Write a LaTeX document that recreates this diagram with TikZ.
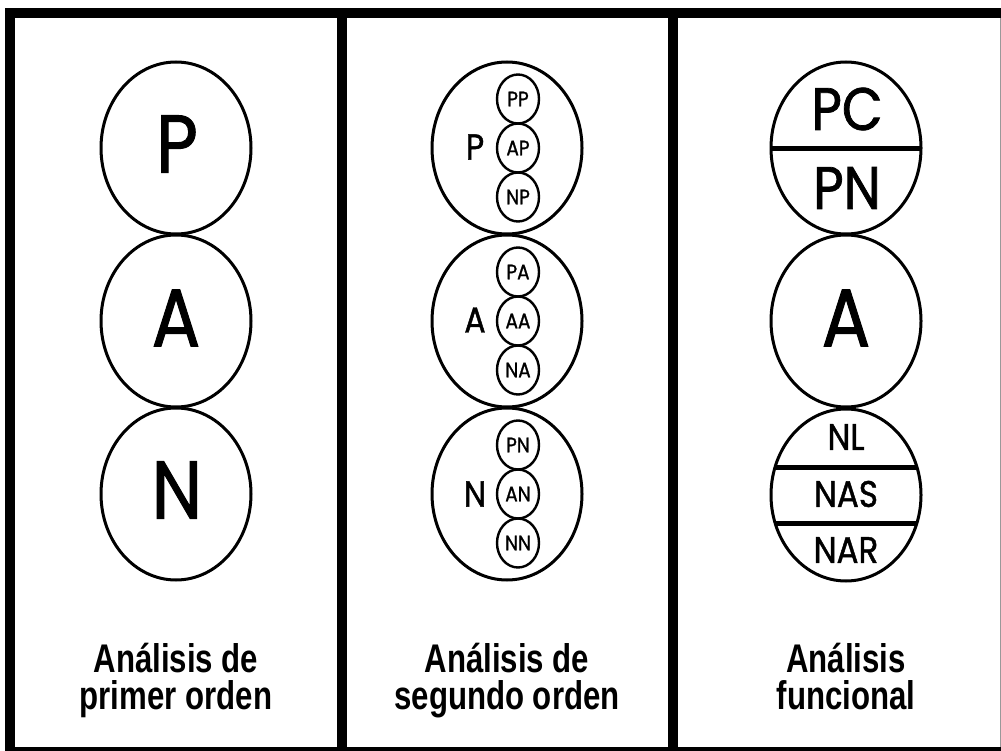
\documentclass[tikz,border=0pt]{standalone}
\usepackage{fontspec}
\usepackage{graphicx}
\usetikzlibrary{shapes.geometric}
\setmainfont{Liberation Sans}
\newfontfamily\geo{Poppins}[FakeStretch=0.88,FakeBold=1.2]
\begin{document}
\begin{tikzpicture}[x=1pt,y=-1pt,
  big/.style={draw, ellipse, line width=3pt, minimum width=150pt, minimum height=172pt, inner sep=0pt, outer sep=0pt},
  small/.style={draw, ellipse, line width=2.4pt, minimum width=42pt, minimum height=49pt, inner sep=0pt, outer sep=0pt, font=\geo\fontsize{21}{21}\selectfont},
  huge/.style={inner sep=0pt, font=\geo\fontsize{82}{82}\selectfont},
  mid/.style={inner sep=0pt, font=\geo\fontsize{36}{36}\selectfont},
  fun/.style={inner sep=0pt, font=\geo\fontsize{60}{60}\selectfont},
  funs/.style={inner sep=0pt, font=\geo\fontsize{37}{37}\selectfont},
  lab/.style={inner sep=0pt, anchor=north, align=center, font=\bfseries\fontsize{40}{37}\selectfont},
  sep/.style={line width=5pt}
]
\useasboundingbox (0,0) rectangle (1001,751);
\fill[white] (0,0) rectangle (1001,751);
% frame
\fill[black] (5,8) rectangle (1001,18);
\fill[black] (5,8) rectangle (15,751);
\fill[black] (337,8) rectangle (347,751);
\fill[black] (668,8) rectangle (678,751);
\fill[black] (5,747) rectangle (1001,751);
\draw[black!40, line width=1pt] (1000,18) -- (1000,747);

% panel 1
\node[big] (p1) at (176,148) {};
\node[big] (a1) at (176,321) {};
\node[big] (n1) at (176,494) {};
\node[huge] (tp1) at (177,144) {P};
\node[huge] (ta1) at (176,318) {A};
\node[huge] (tn1) at (177,490) {N};

% panel 2
\node[big] (p2) at (507,148) {};
\node[big] (a2) at (507,321) {};
\node[big] (n2) at (507,494) {};
\node[mid] (tp2) at (475,147) {P};
\node[mid] (ta2) at (475,320) {A};
\node[mid] (tn2) at (475,494) {N};
\node[small] (pp) at (518,99) {PP};
\node[small] (ap) at (518,148) {AP};
\node[small] (np) at (518,197) {NP};
\node[small] (pa) at (518,272) {PA};
\node[small] (aa) at (518,321) {AA};
\node[small] (na) at (518,370) {NA};
\node[small] (pn) at (518,445) {PN};
\node[small] (an) at (518,494) {AN};
\node[small] (nn) at (518,543) {NN};

% panel 3
\node[big] (p3) at (846,148) {};
\node[big] (a3) at (846,321) {};
\node[big] (n3) at (846,495) {};
\begin{scope}
  \clip (846,148) ellipse [x radius=75pt, y radius=86pt];
  \draw[sep] (760,149) -- (935,149);
\end{scope}
\begin{scope}
  \clip (846,495) ellipse [x radius=75pt, y radius=86pt];
  \draw[sep] (760,467) -- (935,467);
  \draw[sep] (760,523) -- (935,523);
\end{scope}
\node[fun] (pc) at (847,109) {PC};
\node[fun] (pn3) at (847,188) {PN};
\node[huge] (ta3) at (846,318) {A};
\node[funs] (nl) at (846,437) {NL};
\node[funs] (nas) at (846,494) {NAS};
\node[funs] (nar) at (846,550) {NAR};

% labels
\node[lab] (l1) at (176,643) {\scalebox{0.78}[1]{Análisis de}\\\scalebox{0.78}[1]{primer orden}};
\node[lab] (l2) at (507,643) {\scalebox{0.78}[1]{Análisis de}\\\scalebox{0.78}[1]{segundo orden}};
\node[lab] (l3) at (846,643) {\scalebox{0.78}[1]{Análisis}\\\scalebox{0.78}[1]{funcional}};
\end{tikzpicture}
\end{document}
